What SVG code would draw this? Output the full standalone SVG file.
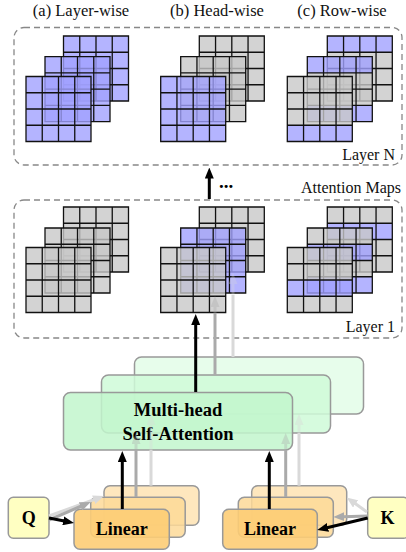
<svg xmlns="http://www.w3.org/2000/svg" xmlns:xlink="http://www.w3.org/1999/xlink" width="406" height="552" viewBox="0 0 406 552">
<style>
.t{font-family:"Liberation Serif","Times New Roman",serif;fill:#111}
.tb{font-family:"Liberation Serif","Times New Roman",serif;font-weight:bold;fill:#000}
.dash{fill:none;stroke:#888;stroke-width:1.3;stroke-dasharray:6 4}
.g{fill:#c8c8c8;fill-opacity:.8}
.b{fill:#a1a1ff;fill-opacity:.8}
.gr{stroke:#999;stroke-width:1.5}
.or{stroke:#999;stroke-width:1.5}
.ak{fill:none;stroke:#000;stroke-width:3}
.ag{fill:none;stroke:#aaa;stroke-width:3}
.al{fill:none;stroke:#d9d9d9;stroke-width:3}
</style>
<defs>
<path id="gl" d="M0,0H65V65H0Z M16.25,0V65 M32.5,0V65 M48.75,0V65 M0,16.25H65 M0,32.5H65 M0,48.75H65" fill="none" stroke="#111" stroke-width="1.3"/>
<marker id="mk" viewBox="0 0 11 9" markerWidth="11" markerHeight="9" refX="1" refY="4.5" orient="auto" markerUnits="userSpaceOnUse"><path d="M0,0L11,4.5L0,9Z" fill="#000"/></marker>
<marker id="mg" viewBox="0 0 11 9" markerWidth="11" markerHeight="9" refX="1" refY="4.5" orient="auto" markerUnits="userSpaceOnUse"><path d="M0,0L11,4.5L0,9Z" fill="#aaa"/></marker>
<marker id="ml" viewBox="0 0 11 9" markerWidth="11" markerHeight="9" refX="1" refY="4.5" orient="auto" markerUnits="userSpaceOnUse"><path d="M0,0L11,4.5L0,9Z" fill="#d9d9d9"/></marker>
</defs>
<rect width="406" height="552" fill="#fff"/>

<g id="titles">
<text class="t" x="81" y="16" font-size="16.5" text-anchor="middle">(a) Layer-wise</text>
<text class="t" x="217" y="16" font-size="16.5" text-anchor="middle">(b) Head-wise</text>
<text class="t" x="342" y="16" font-size="16.5" text-anchor="middle">(c) Row-wise</text>
</g>

<g id="layerN">
<rect class="dash" x="14" y="27.5" width="388" height="137.5" rx="10"/>
<text class="t" x="395" y="160" font-size="16" text-anchor="end">Layer N</text>
<g id="lnA">
<g transform="translate(63.5,36)"><rect class="b" width="65" height="65"/><use href="#gl"/></g>
<g transform="translate(45,56.7)"><rect class="b" width="65" height="65"/><use href="#gl"/></g>
<g transform="translate(26,76.5)"><rect class="b" width="65" height="65"/><use href="#gl"/></g>
</g>
<g id="lnB">
<g transform="translate(199.3,36)"><rect class="g" width="65" height="65"/><use href="#gl"/></g>
<g transform="translate(180.7,56.7)"><rect class="g" width="65" height="65"/><use href="#gl"/></g>
<g transform="translate(160.7,76.5)"><rect class="b" width="65" height="65"/><use href="#gl"/></g>
</g>
<g id="lnC">
<g transform="translate(327.3,36)"><rect class="b" width="65" height="16.25"/><rect class="g" y="16.25" width="65" height="48.75"/><use href="#gl"/></g>
<g transform="translate(307.3,56.7)"><rect class="b" width="65" height="16.25"/><rect class="g" y="16.25" width="65" height="32.5"/><rect class="b" y="48.75" width="65" height="16.25"/><use href="#gl"/></g>
<g transform="translate(287.3,76.5)"><rect class="g" width="65" height="48.75"/><rect class="b" y="48.75" width="65" height="16.25"/><use href="#gl"/></g>
</g>
</g>

<text class="t" x="401" y="193" font-size="16" text-anchor="end">Attention Maps</text>
<text class="tb" x="219" y="188" font-size="19">...</text>

<g id="layer1">
<rect class="dash" x="14" y="200" width="388" height="138" rx="10"/>
<text class="t" x="395" y="331.5" font-size="16" text-anchor="end">Layer 1</text>
<g id="l1A">
<g transform="translate(63.5,207)"><rect class="g" width="65" height="65"/><use href="#gl"/></g>
<g transform="translate(45,228)"><rect class="g" width="65" height="65"/><use href="#gl"/></g>
<g transform="translate(26,247.5)"><rect class="g" width="65" height="65"/><use href="#gl"/></g>
</g>
<g id="l1B">
<g transform="translate(199.3,207)"><rect class="g" width="65" height="65"/><use href="#gl"/></g>
<g transform="translate(180.7,228)"><rect class="b" width="65" height="65"/><use href="#gl"/></g>
<g transform="translate(160.7,247.5)"><rect class="g" width="65" height="65"/><use href="#gl"/></g>
</g>
<g id="l1C">
<g transform="translate(327.3,207)"><rect class="g" width="65" height="16.25"/><rect class="b" y="16.25" width="65" height="16.25"/><rect class="g" y="32.5" width="65" height="32.5"/><use href="#gl"/></g>
<g transform="translate(307.3,228)"><rect class="g" width="65" height="16.25"/><rect class="b" y="16.25" width="65" height="16.25"/><rect class="g" y="32.5" width="65" height="16.25"/><rect class="b" y="48.75" width="65" height="16.25"/><use href="#gl"/></g>
<g transform="translate(287.3,247.5)"><rect class="g" width="65" height="32.5"/><rect class="b" y="32.5" width="65" height="16.25"/><rect class="g" y="48.75" width="65" height="16.25"/><use href="#gl"/></g>
</g>
</g>

<g id="mhsa">
<rect class="gr" x="134.5" y="357" width="229" height="57" rx="7" fill="#e3fde7" fill-opacity=".85"/>
<rect class="gr" x="101.5" y="375" width="229" height="58" rx="7" fill="#cffad8" fill-opacity=".85"/>
<rect class="gr" x="63.5" y="392.5" width="229" height="57.5" rx="7" fill="#c2f6cd" fill-opacity=".85"/>
<text class="tb" x="178" y="416" font-size="18.5" text-anchor="middle">Multi-head</text>
<text class="tb" x="178" y="439.5" font-size="18.5" text-anchor="middle">Self-Attention</text>
</g>

<g id="linearQ">
<rect class="or" x="104" y="485.7" width="95" height="39.5" rx="6" fill="#fee3b3" fill-opacity=".85"/>
<rect class="or" x="90.7" y="497.3" width="94.5" height="40" rx="6" fill="#fdd998" fill-opacity=".85"/>
<rect class="or" x="74" y="509.3" width="95.3" height="40" rx="6" fill="#fdcd76" fill-opacity=".9"/>
<text class="tb" x="121.7" y="535" font-size="18" text-anchor="middle">Linear</text>
</g>
<g id="linearK">
<rect class="or" x="251.7" y="485.7" width="95" height="39.5" rx="6" fill="#fee3b3" fill-opacity=".85"/>
<rect class="or" x="238.3" y="497.3" width="95" height="40" rx="6" fill="#fdd998" fill-opacity=".85"/>
<rect class="or" x="222.7" y="509.3" width="94.6" height="40" rx="6" fill="#fdcd76" fill-opacity=".9"/>
<text class="tb" x="270" y="535" font-size="18" text-anchor="middle">Linear</text>
</g>

<g id="Q">
<rect x="8.3" y="497.3" width="40.7" height="41" rx="5" fill="#ffffc2" stroke="#999" stroke-width="1.5"/>
<text class="tb" x="28.7" y="524.3" font-size="18" text-anchor="middle">Q</text>
</g>
<g id="K">
<rect x="367.7" y="497.3" width="41" height="41" rx="5" fill="#ffffc2" stroke="#999" stroke-width="1.5"/>
<text class="tb" x="387.5" y="524.3" font-size="18" text-anchor="middle">K</text>
</g>

<g id="connectors">
<path class="ak" d="M209.3,199V177.5" marker-end="url(#mk)"/>
<path class="ag" d="M215,375V313"/>
<g opacity=".35"><path class="ag" d="M215,313V306" marker-end="url(#mg)"/></g>
<path class="al" d="M233,357V295"/>
<g opacity=".3"><path class="al" d="M233,295V283" marker-end="url(#ml)"/></g>
<path class="ak" d="M195.7,392V324" marker-end="url(#mk)"/>
<path class="ag" d="M136,497V450"/>
<g opacity=".35"><path class="ag" d="M136,450V443" marker-end="url(#mg)"/></g>
<path class="al" d="M151,485.7V450"/>
<g opacity=".35"><path class="al" d="M151,450V424" marker-end="url(#ml)"/></g>
<path class="ag" d="M285.7,497V450"/>
<g opacity=".35"><path class="ag" d="M285.7,450V443" marker-end="url(#mg)"/></g>
<path class="al" d="M299,485.7V433"/>
<g opacity=".4"><path class="al" d="M299,433V424" marker-end="url(#ml)"/></g>
<path class="ak" d="M122.3,509V461" marker-end="url(#mk)"/>
<path class="ak" d="M269.3,509V461" marker-end="url(#mk)"/>
<path class="al" d="M49,516L94.6,499.4" marker-end="url(#ml)"/>
<path class="ag" d="M49,520L81.5,506" marker-end="url(#mg)"/>
<path class="ak" d="M49,518L64.2,521" marker-end="url(#mk)"/>
<path class="al" d="M367,512L354.8,503.3" marker-end="url(#ml)"/>
<path class="ag" d="M367.7,516L343.3,516.7" marker-end="url(#mg)"/>
<path class="ak" d="M367.7,518L327,527.7" marker-end="url(#mk)"/>
</g>
</svg>
